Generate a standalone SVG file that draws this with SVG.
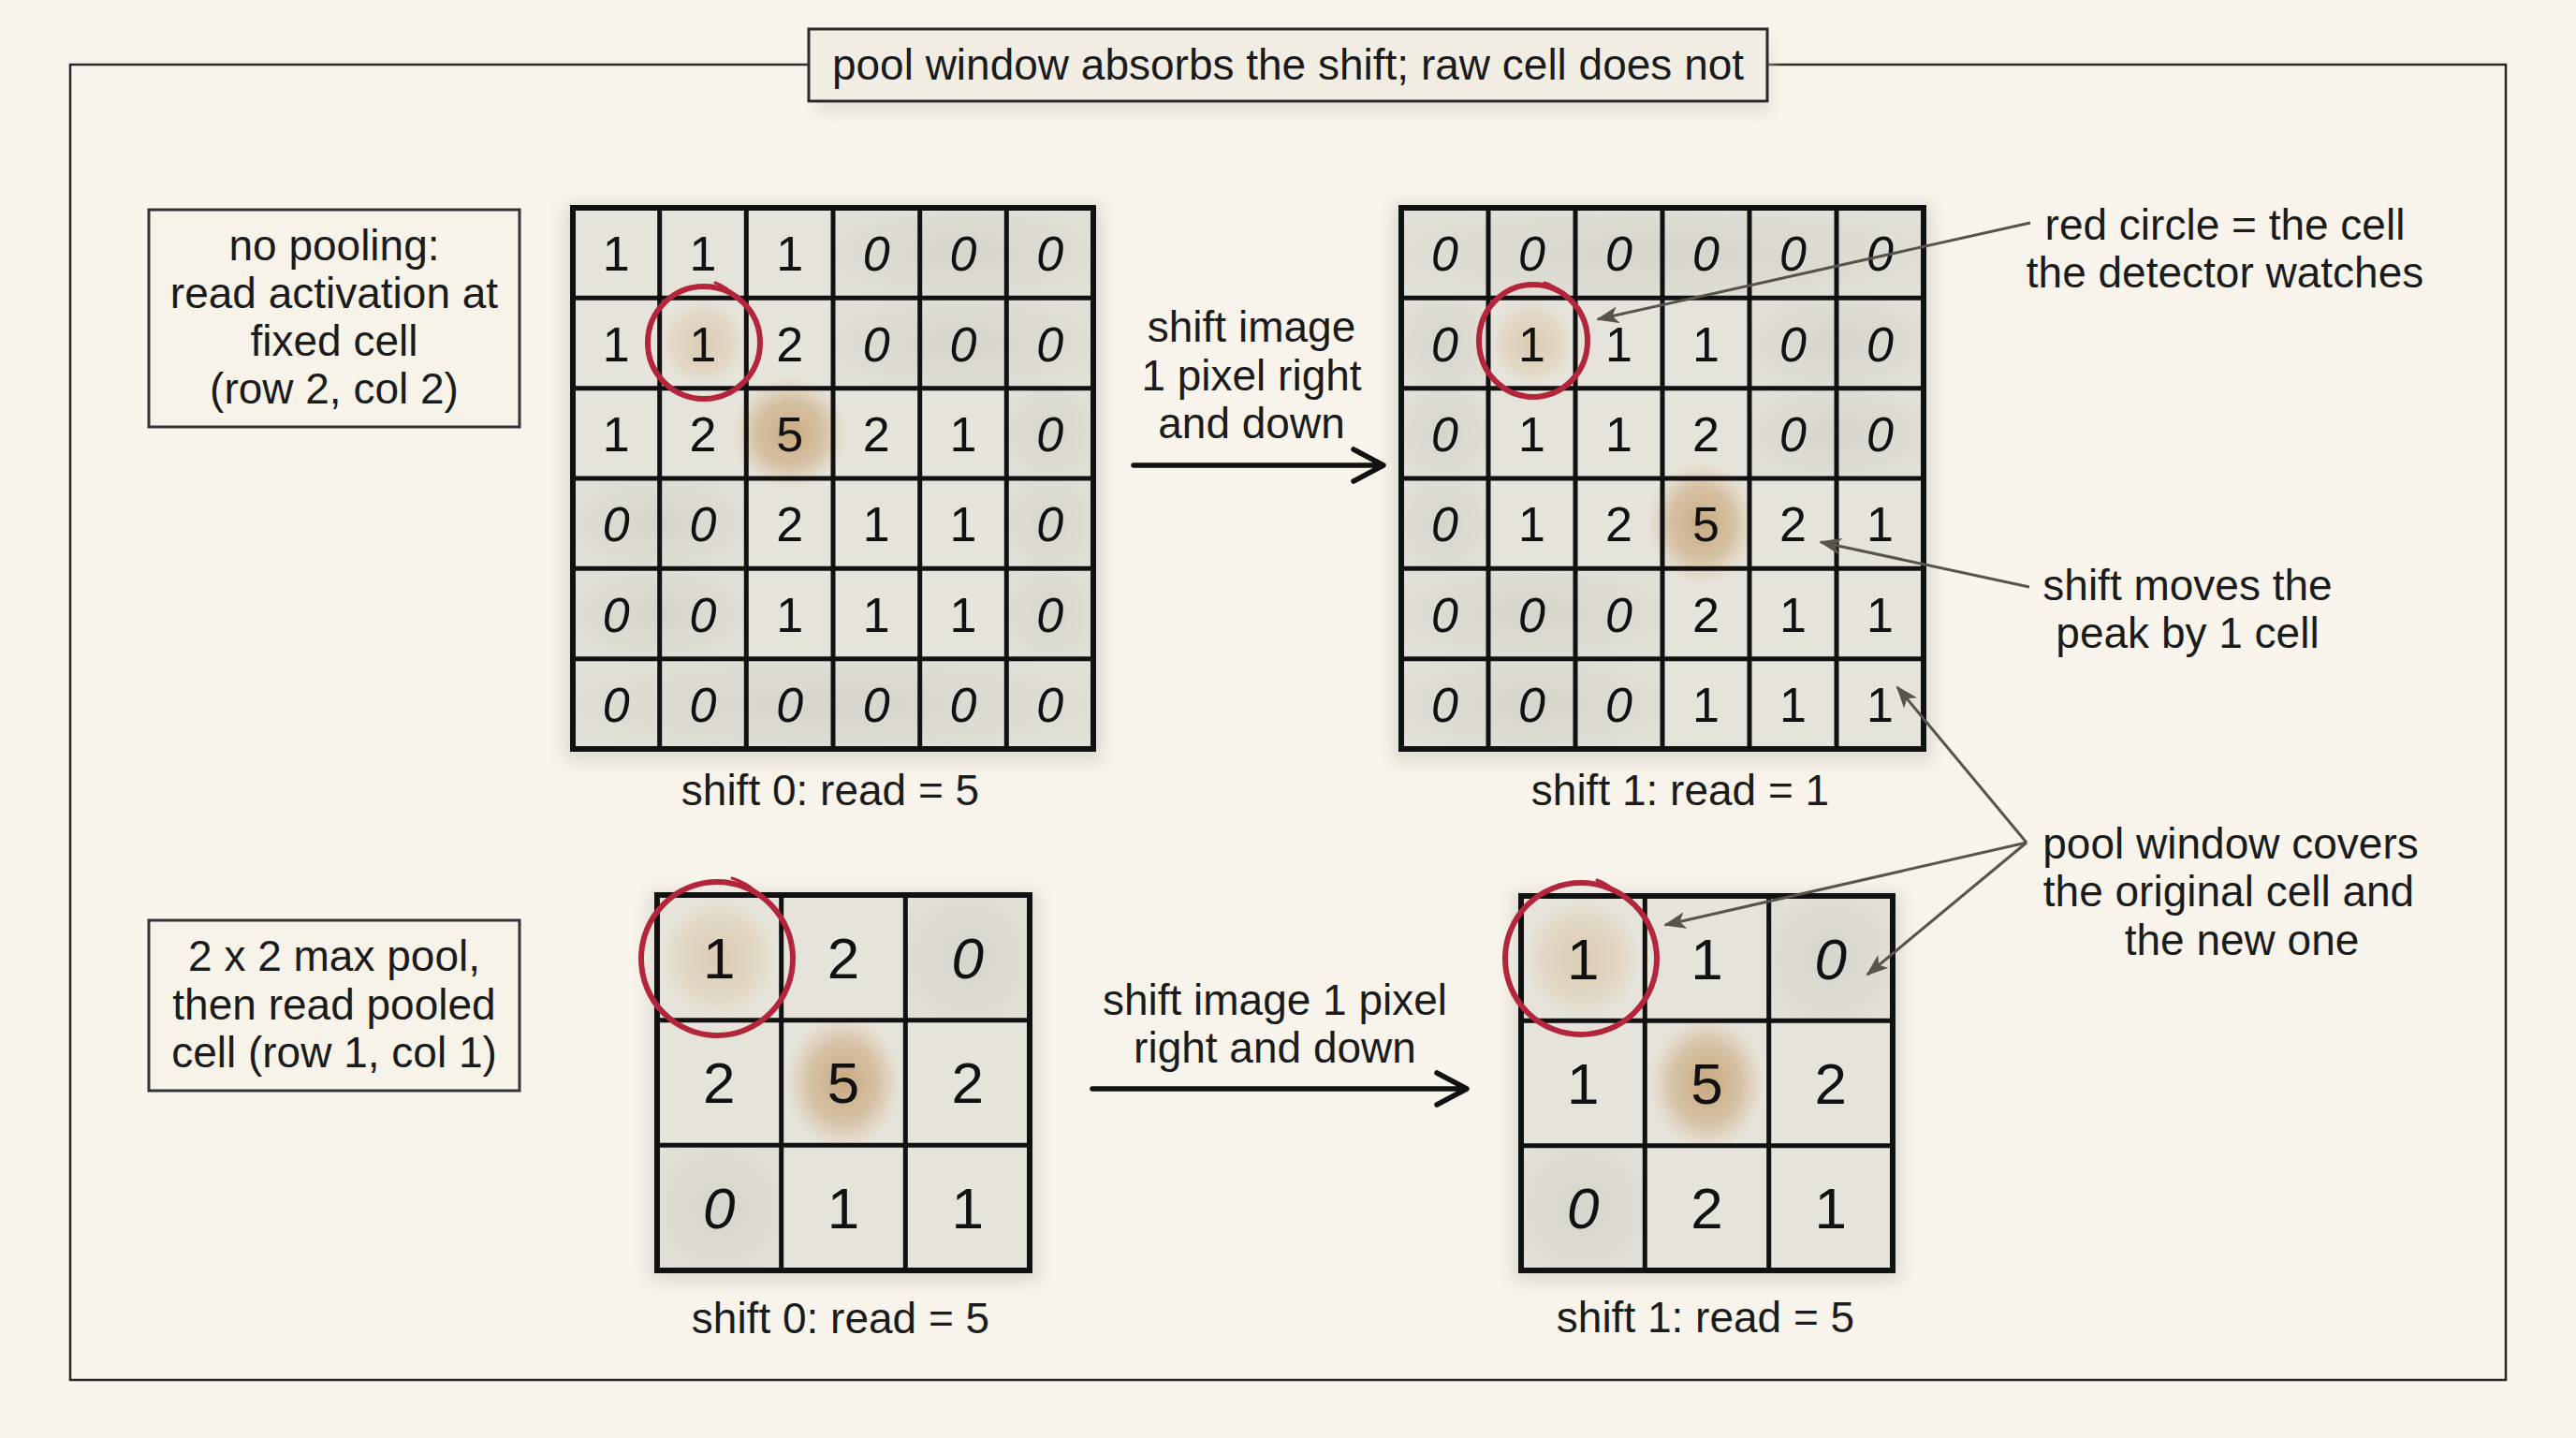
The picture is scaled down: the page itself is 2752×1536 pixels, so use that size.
<svg xmlns="http://www.w3.org/2000/svg" width="2752" height="1536" viewBox="0 0 2752 1536">
<defs>
<style>
.lbl{font-family:"Liberation Sans",Arial,sans-serif;font-size:46px;fill:#1b1b1b;text-anchor:middle}
.d{font-family:"Liberation Sans",Arial,sans-serif;font-size:52px;fill:#111;text-anchor:middle}
.D{font-family:"Liberation Sans",Arial,sans-serif;font-size:62px;fill:#111;text-anchor:middle}
.z{font-style:italic}
.box{fill:#f7f3e9;stroke:#333;stroke-width:3}
.gbg{fill:#e6e3da}
.gl{fill:none;stroke:#111;stroke-width:5;stroke-linecap:square}
.gb{fill:none;stroke:#111;stroke-width:6}
.zc{fill:url(#gz)}
.ring{fill:none;stroke:#b3253b;stroke-width:6}
.tail{fill:none;stroke:#b3253b;stroke-width:3;stroke-linecap:round}
.lead{fill:none;stroke:#58534b;stroke-width:3}
.main{fill:none;stroke:#111;stroke-width:5.5;stroke-linecap:round;stroke-linejoin:round}
</style>
<radialGradient id="gz" cx="0.5" cy="0.5" r="0.6">
<stop offset="0" stop-color="#d7d4cb"/>
<stop offset="1" stop-color="#e2dfd6"/>
</radialGradient>
<radialGradient id="peak" cx="0.5" cy="0.5" r="0.5">
<stop offset="0" stop-color="#c19a69" stop-opacity="0.8"/>
<stop offset="0.6" stop-color="#c9a67a" stop-opacity="0.55"/>
<stop offset="1" stop-color="#d6bc98" stop-opacity="0"/>
</radialGradient>
<radialGradient id="soft" cx="0.5" cy="0.5" r="0.5">
<stop offset="0" stop-color="#d9c7a9" stop-opacity="0.8"/>
<stop offset="0.7" stop-color="#ddccb0" stop-opacity="0.5"/>
<stop offset="1" stop-color="#e3d6c0" stop-opacity="0"/>
</radialGradient>
<filter id="blur" x="-10%" y="-10%" width="120%" height="120%"><feGaussianBlur stdDeviation="9"/></filter>
<marker id="ah" viewBox="0 0 24 18" refX="22" refY="9" markerWidth="24" markerHeight="18" markerUnits="userSpaceOnUse" orient="auto">
<path d="M0,0 L24,9 L0,18 L6,9 z" fill="#58534b"/>
</marker>
</defs>
<rect width="2752" height="1536" fill="#f8f4eb"/>
<rect x="75" y="69" width="2602" height="1405" fill="none" stroke="#2a2a2a" stroke-width="2.5"/>

<g id="title">
<rect x="872" y="44" width="1020" height="78" fill="#d8d3c7" opacity="0.6" filter="url(#blur)"/>
<rect x="864" y="31" width="1024" height="77" fill="#f1ede3" stroke="#2a2a2a" stroke-width="3"/>
<text class="lbl" x="1376" y="85">pool window absorbs the shift; raw cell does not</text>
</g>

<g id="note-nopool">
<rect class="box" x="159" y="224" width="396" height="232"/>
<text class="lbl" x="357" y="278">no pooling:</text>
<text class="lbl" x="357" y="329">read activation at</text>
<text class="lbl" x="357" y="380">fixed cell</text>
<text class="lbl" x="357" y="431">(row 2, col 2)</text>
</g>

<g id="note-pool">
<rect class="box" x="159" y="983" width="396" height="182"/>
<text class="lbl" x="357" y="1037">2 x 2 max pool,</text>
<text class="lbl" x="357" y="1089">then read pooled</text>
<text class="lbl" x="357" y="1140">cell (row 1, col 1)</text>
</g>

<g id="grid-raw-shift0">
<rect x="602" y="218" width="576" height="596" fill="#cbc7bd" opacity="0.55" filter="url(#blur)"/>
<rect class="gbg" x="612" y="222" width="556" height="578"/>
<g class="zc">
<rect x="890" y="222" width="278" height="96.3"/>
<rect x="890" y="318.3" width="278" height="96.3"/>
<rect x="1075.3" y="414.7" width="92.7" height="96.3"/>
<rect x="612" y="511" width="185.3" height="96.3"/>
<rect x="1075.3" y="511" width="92.7" height="96.3"/>
<rect x="612" y="607.3" width="185.3" height="96.3"/>
<rect x="1075.3" y="607.3" width="92.7" height="96.3"/>
<rect x="612" y="703.7" width="556" height="96.3"/>
</g>
<ellipse cx="751" cy="366.5" rx="46" ry="46" fill="url(#soft)"/>
<ellipse cx="843.7" cy="462.8" rx="62" ry="60" fill="url(#peak)"/>
<path class="gl" d="M704.7,222V800M797.3,222V800M890,222V800M982.7,222V800M1075.3,222V800M612,318.3H1168M612,414.7H1168M612,511H1168M612,607.3H1168M612,703.7H1168"/>
<rect class="gb" x="612" y="222" width="556" height="578"/>
<text class="d" x="658.3" y="289">1</text><text class="d" x="751" y="289">1</text><text class="d" x="843.7" y="289">1</text><text class="d z" x="936.3" y="289">0</text><text class="d z" x="1029" y="289">0</text><text class="d z" x="1121.7" y="289">0</text>
<text class="d" x="658.3" y="386">1</text><text class="d" x="751" y="386">1</text><text class="d" x="843.7" y="386">2</text><text class="d z" x="936.3" y="386">0</text><text class="d z" x="1029" y="386">0</text><text class="d z" x="1121.7" y="386">0</text>
<text class="d" x="658.3" y="482">1</text><text class="d" x="751" y="482">2</text><text class="d" x="843.7" y="482">5</text><text class="d" x="936.3" y="482">2</text><text class="d" x="1029" y="482">1</text><text class="d z" x="1121.7" y="482">0</text>
<text class="d z" x="658.3" y="578">0</text><text class="d z" x="751" y="578">0</text><text class="d" x="843.7" y="578">2</text><text class="d" x="936.3" y="578">1</text><text class="d" x="1029" y="578">1</text><text class="d z" x="1121.7" y="578">0</text>
<text class="d z" x="658.3" y="675">0</text><text class="d z" x="751" y="675">0</text><text class="d" x="843.7" y="675">1</text><text class="d" x="936.3" y="675">1</text><text class="d" x="1029" y="675">1</text><text class="d z" x="1121.7" y="675">0</text>
<text class="d z" x="658.3" y="771">0</text><text class="d z" x="751" y="771">0</text><text class="d z" x="843.7" y="771">0</text><text class="d z" x="936.3" y="771">0</text><text class="d z" x="1029" y="771">0</text><text class="d z" x="1121.7" y="771">0</text>
<circle class="ring" cx="752" cy="366" r="60"/>
<path class="tail" d="M764,302 Q778,307 786,318"/>
<text class="lbl" x="887" y="860">shift 0: read = 5</text>
</g>

<g id="grid-raw-shift1">
<rect x="1487" y="218" width="578" height="596" fill="#cbc7bd" opacity="0.55" filter="url(#blur)"/>
<rect class="gbg" x="1497" y="222" width="558" height="578"/>
<g class="zc">
<rect x="1497" y="222" width="558" height="96.3"/>
<rect x="1497" y="318.3" width="93" height="96.3"/>
<rect x="1869" y="318.3" width="186" height="96.3"/>
<rect x="1497" y="414.7" width="93" height="96.3"/>
<rect x="1869" y="414.7" width="186" height="96.3"/>
<rect x="1497" y="511" width="93" height="96.3"/>
<rect x="1497" y="607.3" width="279" height="96.3"/>
<rect x="1497" y="703.7" width="279" height="96.3"/>
</g>
<ellipse cx="1636.5" cy="366.5" rx="44" ry="46" fill="url(#soft)"/>
<ellipse cx="1818" cy="559" rx="58" ry="66" fill="url(#peak)"/>
<path class="gl" d="M1590,222V800M1683,222V800M1776,222V800M1869,222V800M1962,222V800M1497,318.3H2055M1497,414.7H2055M1497,511H2055M1497,607.3H2055M1497,703.7H2055"/>
<rect class="gb" x="1497" y="222" width="558" height="578"/>
<text class="d z" x="1543.5" y="289">0</text><text class="d z" x="1636.5" y="289">0</text><text class="d z" x="1729.5" y="289">0</text><text class="d z" x="1822.5" y="289">0</text><text class="d z" x="1915.5" y="289">0</text><text class="d z" x="2008.5" y="289">0</text>
<text class="d z" x="1543.5" y="386">0</text><text class="d" x="1636.5" y="386">1</text><text class="d" x="1729.5" y="386">1</text><text class="d" x="1822.5" y="386">1</text><text class="d z" x="1915.5" y="386">0</text><text class="d z" x="2008.5" y="386">0</text>
<text class="d z" x="1543.5" y="482">0</text><text class="d" x="1636.5" y="482">1</text><text class="d" x="1729.5" y="482">1</text><text class="d" x="1822.5" y="482">2</text><text class="d z" x="1915.5" y="482">0</text><text class="d z" x="2008.5" y="482">0</text>
<text class="d z" x="1543.5" y="578">0</text><text class="d" x="1636.5" y="578">1</text><text class="d" x="1729.5" y="578">2</text><text class="d" x="1822.5" y="578">5</text><text class="d" x="1915.5" y="578">2</text><text class="d" x="2008.5" y="578">1</text>
<text class="d z" x="1543.5" y="675">0</text><text class="d z" x="1636.5" y="675">0</text><text class="d z" x="1729.5" y="675">0</text><text class="d" x="1822.5" y="675">2</text><text class="d" x="1915.5" y="675">1</text><text class="d" x="2008.5" y="675">1</text>
<text class="d z" x="1543.5" y="771">0</text><text class="d z" x="1636.5" y="771">0</text><text class="d z" x="1729.5" y="771">0</text><text class="d" x="1822.5" y="771">1</text><text class="d" x="1915.5" y="771">1</text><text class="d" x="2008.5" y="771">1</text>
<ellipse class="ring" cx="1638" cy="364" rx="58" ry="60"/>
<path class="tail" d="M1650,302 Q1660,305 1666,312"/>
<text class="lbl" x="1795" y="860">shift 1: read = 1</text>
</g>

<g id="grid-pool-shift0">
<rect x="692" y="952" width="418" height="418" fill="#cbc7bd" opacity="0.55" filter="url(#blur)"/>
<rect class="gbg" x="702" y="956" width="398" height="401"/>
<g class="zc">
<rect x="967.3" y="956" width="132.7" height="133.7"/>
<rect x="702" y="1223.3" width="132.7" height="133.7"/>
</g>
<ellipse cx="768" cy="1023" rx="62" ry="64" fill="url(#soft)"/>
<ellipse cx="901" cy="1156" rx="62" ry="72" fill="url(#peak)"/>
<path class="gl" d="M834.7,956V1357M967.3,956V1357M702,1089.7H1100M702,1223.3H1100"/>
<rect class="gb" x="702" y="956" width="398" height="401"/>
<text class="D" x="768.3" y="1045">1</text><text class="D" x="901" y="1045">2</text><text class="D z" x="1033.7" y="1045">0</text>
<text class="D" x="768.3" y="1178">2</text><text class="D" x="901" y="1178">5</text><text class="D" x="1033.7" y="1178">2</text>
<text class="D z" x="768.3" y="1312">0</text><text class="D" x="901" y="1312">1</text><text class="D" x="1033.7" y="1312">1</text>
<ellipse class="ring" cx="766" cy="1024" rx="81" ry="82"/>
<path class="tail" d="M782,938 Q798,943 808,953"/>
<text class="lbl" x="898" y="1424">shift 0: read = 5</text>
</g>

<g id="grid-pool-shift1">
<rect x="1615" y="953" width="417" height="417" fill="#cbc7bd" opacity="0.55" filter="url(#blur)"/>
<rect class="gbg" x="1625" y="957" width="397" height="400"/>
<g class="zc">
<rect x="1889.7" y="957" width="132.3" height="133.3"/>
<rect x="1625" y="1223.7" width="132.3" height="133.3"/>
</g>
<ellipse cx="1691" cy="1024" rx="62" ry="64" fill="url(#soft)"/>
<ellipse cx="1823.5" cy="1157" rx="62" ry="72" fill="url(#peak)"/>
<path class="gl" d="M1757.3,957V1357M1889.7,957V1357M1625,1090.3H2022M1625,1223.7H2022"/>
<rect class="gb" x="1625" y="957" width="397" height="400"/>
<text class="D" x="1691.2" y="1046">1</text><text class="D" x="1823.5" y="1046">1</text><text class="D z" x="1955.8" y="1046">0</text>
<text class="D" x="1691.2" y="1179">1</text><text class="D" x="1823.5" y="1179">5</text><text class="D" x="1955.8" y="1179">2</text>
<text class="D z" x="1691.2" y="1312">0</text><text class="D" x="1823.5" y="1312">2</text><text class="D" x="1955.8" y="1312">1</text>
<ellipse class="ring" cx="1689" cy="1024" rx="81" ry="81"/>
<path class="tail" d="M1706,940 Q1720,945 1728,955"/>
<text class="lbl" x="1822" y="1423">shift 1: read = 5</text>
</g>

<g id="label-shift-top">
<text class="lbl" x="1337" y="365">shift image</text>
<text class="lbl" x="1337" y="417">1 pixel right</text>
<text class="lbl" x="1337" y="468">and down</text>
</g>
<g id="label-shift-bottom">
<text class="lbl" x="1362" y="1084">shift image 1 pixel</text>
<text class="lbl" x="1362" y="1135">right and down</text>
</g>
<g id="note-redcircle">
<text class="lbl" x="2377" y="256">red circle = the cell</text>
<text class="lbl" x="2377" y="307">the detector watches</text>
</g>
<g id="note-shiftmoves">
<text class="lbl" x="2337" y="641">shift moves the</text>
<text class="lbl" x="2337" y="692">peak by 1 cell</text>
</g>
<g id="note-poolwindow">
<text class="lbl" x="2383" y="917">pool window covers</text>
<text class="lbl" x="2381" y="968">the original cell and</text>
<text class="lbl" x="2395" y="1020">the new one</text>
</g>

<g id="connectors">
<path class="main" d="M1211,497 L1476,497 M1446,480 L1478,497 L1446,514"/>
<path class="main" d="M1167,1163 L1565,1163 M1535,1146 L1567,1163 L1535,1180"/>
<path class="lead" d="M2169,238 L1707,341" marker-end="url(#ah)"/>
<path class="lead" d="M2168,627 L1945,579" marker-end="url(#ah)"/>
<path class="lead" d="M2165,900 L2027,734" marker-end="url(#ah)"/>
<path class="lead" d="M2165,900 L1779,988" marker-end="url(#ah)"/>
<path class="lead" d="M2165,900 L1995,1041" marker-end="url(#ah)"/>
</g>
</svg>
